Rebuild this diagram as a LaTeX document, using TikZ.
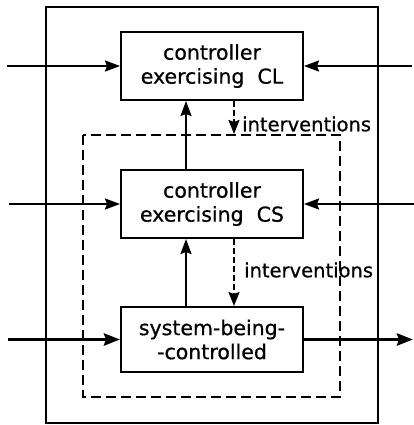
\documentclass[tikz,border=0pt]{standalone}
\usepackage{fontspec}
\setmainfont{DejaVu Sans}
\newfontfamily\heavy[FakeBold=0.7]{DejaVu Sans}
\usetikzlibrary{arrows.meta}
\begin{document}
\begin{tikzpicture}[x=1pt,y=-1pt,
  blk/.style={draw, line width=2pt, minimum width=182pt, align=center, inner sep=0pt,
    font=\heavy\fontsize{20.5}{24}\selectfont},
  lbl/.style={anchor=west, inner sep=0pt, font=\heavy\fontsize{19.5}{24}\selectfont},
  arr/.style={line width=2pt, -{Stealth[length=15pt,width=11pt,inset=2pt]}},
  thickarr/.style={line width=3.4pt, -{Stealth[length=16pt,width=12pt,inset=2pt]}},
  dasharr/.style={line width=2pt, dash pattern=on 6pt off 3pt, -{Stealth[length=14pt,width=11pt,inset=2pt]}},
  frame/.style={line width=2pt},
  dframe/.style={line width=2pt, dash pattern=on 10pt off 5pt}]
\useasboundingbox (0,0) rectangle (414,425);
% frames
\draw[frame] (46,7) rectangle (378,423);
\draw[dframe] (83,135) rectangle (340,397);
% blocks
\node[blk, minimum height=68pt] (CL) at (212,66) {controller\\exercising\ \ CL};
\node[blk, minimum height=68pt] (CS) at (212,204) {controller\\exercising\ \ CS};
\node[blk, minimum height=65pt] (SYS) at (212,339.5) {system-being-\\-controlled};
% free ends
\coordinate (l1) at (7,66);
\coordinate (r1) at (412,66);
\coordinate (l2) at (9,204);
\coordinate (r2) at (414,204);
\coordinate (l3) at (8,339.5);
\coordinate (r3) at (413,339.5);
\coordinate (d1) at (234,134);
% side arrows
\draw[arr] (l1) -- (CL.west);
\draw[arr] (r1) -- (CL.east);
\draw[arr] (l2) -- (CS.west);
\draw[arr] (r2) -- (CS.east);
\draw[thickarr] (l3) -- (SYS.west);
\draw[thickarr] (SYS.east) -- (r3);
% vertical feedback
\draw[arr] (CS.north -| 186,0) -- (CL.south -| 186,0);
\draw[arr] (SYS.north -| 186,0) -- (CS.south -| 186,0);
% interventions
\draw[dasharr] (CL.south -| d1) -- (d1);
\node[lbl] (i1) at (242,124) {interventions};
\draw[dasharr] (CS.south -| d1) -- (SYS.north -| d1);
\node[lbl] (i2) at (244,270) {interventions};
\end{tikzpicture}
\end{document}
